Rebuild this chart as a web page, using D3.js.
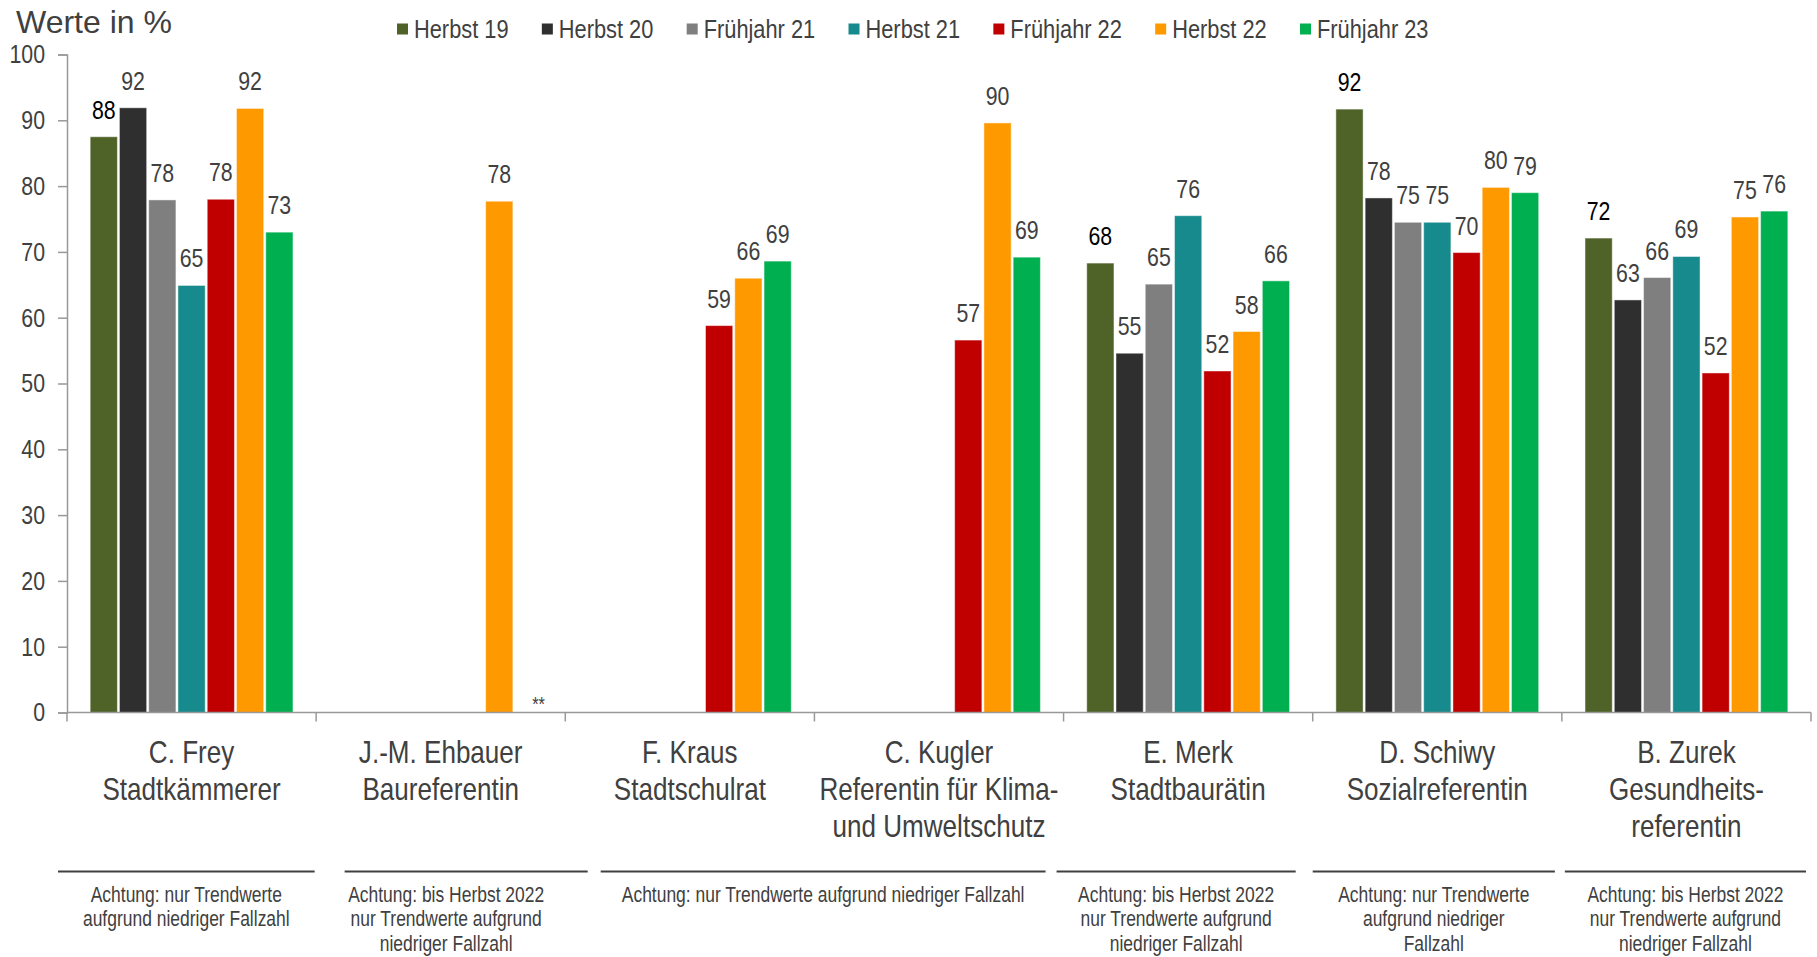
<!DOCTYPE html>
<head>
  <meta charset="utf-8">
  <script src="https://cdn.jsdelivr.net/npm/d3@7"></script>
</head>
<style>
  body { margin: 0; background: #fff; }
  text { font-family: "Liberation Sans", Arial, sans-serif; fill: #404040; }
</style>
<body>
<script>

// categories (person + role lines)
var persons = ["C. Frey", "J.-M. Ehbauer", "F. Kraus", "C. Kugler", "E. Merk", "D. Schiwy", "B. Zurek"];
var roles = [["Stadtkämmerer"], ["Baureferentin"], ["Stadtschulrat"], ["Referentin für Klima-", "und Umweltschutz"],
             ["Stadtbaurätin"], ["Sozialreferentin"], ["Gesundheits-", "referentin"]];

var series = ["Herbst 19", "Herbst 20", "Frühjahr 21", "Herbst 21", "Frühjahr 22", "Herbst 22", "Frühjahr 23"];
var colors = ["#4f6228", "#2f2f2f", "#7f7f7f", "#168a8c", "#c00000", "#ff9900", "#00b050"];

// values in %, null = no value
var herbst19    = [87.5, null, null, null, 68.3, 91.7, 72.1];
var herbst20    = [91.9, null, null, null, 54.6, 78.2, 62.7];
var fruehjahr21 = [77.9, null, null, null, 65.1, 74.5, 66.1];
var herbst21    = [64.9, null, null, null, 75.5, 74.5, 69.3];
var fruehjahr22 = [78.0, null, 58.8, 56.6, 51.9, 69.9, 51.6];
var herbst22    = [91.8, 77.7, 66.0, 89.6, 57.9, 79.8, 75.3];
var fruehjahr23 = [73.0, null, 68.6, 69.2, 65.6, 79.0, 76.2];
var fruehjahr23Marks = ["", "**", "", "", "", "", ""];

var values = [herbst19, herbst20, fruehjahr21, herbst21, fruehjahr22, herbst22, fruehjahr23];

var yTicks = [0, 10, 20, 30, 40, 50, 60, 70, 80, 90, 100];

// footnotes below the categories
var noteTexts = [
  ["Achtung: nur Trendwerte", "aufgrund niedriger Fallzahl"],
  ["Achtung: bis Herbst 2022", "nur Trendwerte aufgrund", "niedriger Fallzahl"],
  ["Achtung: nur Trendwerte aufgrund niedriger Fallzahl"],
  ["Achtung: bis Herbst 2022", "nur Trendwerte aufgrund", "niedriger Fallzahl"],
  ["Achtung: nur Trendwerte", "aufgrund niedriger", "Fallzahl"],
  ["Achtung: bis Herbst 2022", "nur Trendwerte aufgrund", "niedriger Fallzahl"]
];
var noteSpans = [[0, 0], [1, 1], [2, 3], [4, 4], [5, 5], [6, 6]];
// line offsets (left, right) relative to the band edges, and text shift
var noteLayout = [[-9, -1.5, 0], [28.5, 22.4, -20], [35.4, -18, 0], [-7, -17, 0], [0, -7, 0], [3, -5, 0]];

var width = 1817, height = 957;
var narrowK = 0.82; // no Arial Narrow installed -> squeeze Liberation Sans

var svg = d3.select("body").append("svg")
    .attr("width", width)
    .attr("height", height);

var x0 = d3.scaleBand()
    .domain(persons)
    .range([67, 1811]);

var bw = x0.bandwidth();
var x1 = d3.scaleBand()
    .domain(series)
    .range([bw * 0.093, bw * 0.907])
    .paddingInner(0.07);

var y = d3.scaleLinear()
    .domain([0, 100])
    .range([712.5, 54.5]);

// title
svg.append("text")
    .attr("x", 16)
    .attr("y", 33)
    .style("font-size", "32px")
    .text("Werte in %");

// legend
var legend = svg.append("g").attr("transform", "translate(397,29)");
var lx = 0;
series.forEach(function(s, i) {
  var g = legend.append("g").attr("transform", "translate(" + lx + ",0)");
  g.append("rect")
    .attr("x", 0).attr("y", -5.5)
    .attr("width", 11).attr("height", 11)
    .style("fill", colors[i]);
  var t = g.append("text")
    .attr("class", "n")
    .attr("x", 17)
    .attr("dy", "0.35em")
    .style("font-size", "26.6px")
    .text(s);
  lx += 17 + t.node().getComputedTextLength() * narrowK + 33.3;
});

// y axis
var yAxis = svg.append("g")
    .attr("transform", "translate(67,0)")
    .call(d3.axisLeft(y).tickValues(yTicks).tickSize(9).tickPadding(13));
yAxis.select(".domain").attr("stroke", "#999").attr("stroke-width", 1.5);
yAxis.selectAll(".tick line").attr("stroke", "#999").attr("stroke-width", 1.5);
yAxis.selectAll(".tick text")
    .attr("class", "n")
    .style("font-size", "26px")
    .style("font-family", null)
    .attr("fill", null);
yAxis.attr("font-family", null).attr("font-size", null);

// bars
var groups = svg.selectAll(".cat")
    .data(persons)
  .enter().append("g")
    .attr("class", "cat")
    .attr("transform", function(d) { return "translate(" + x0(d) + ",0)"; });

groups.each(function(p, ci) {
  var g = d3.select(this);
  var rows = series.map(function(s, si) { return {s: s, si: si, v: values[si][ci]}; })
      .filter(function(d) { return d.v != null; });

  g.selectAll("rect")
      .data(rows)
    .enter().append("rect")
      .attr("x", function(d) { return x1(d.s); })
      .attr("y", function(d) { return y(d.v); })
      .attr("width", x1.bandwidth())
      .attr("height", function(d) { return y(0) - y(d.v); })
      .style("fill", function(d) { return colors[d.si]; })
      .style("stroke", "#fff")
      .style("stroke-opacity", 0.45)
      .style("stroke-width", 1);

  g.selectAll(".lbl")
      .data(rows)
    .enter().append("text")
      .attr("class", "lbl n")
      .attr("x", function(d) { return x1(d.s) + x1.bandwidth() / 2; })
      .attr("y", function(d) { return y(d.v) - 18; })
      .attr("text-anchor", "middle")
      .style("font-size", "26px")
      .style("fill", function(d) { return d.si == 0 ? "#000" : "#404040"; })
      .text(function(d) { return Math.round(d.v); });

  if (fruehjahr23Marks[ci]) {
    g.append("text")
      .attr("class", "n")
      .attr("x", x1("Frühjahr 23") + x1.bandwidth() / 2 + 10)
      .attr("y", y(0) - 1)
      .attr("text-anchor", "middle")
      .style("font-size", "20px")
      .text(fruehjahr23Marks[ci]);
  }
});

// x axis
var xAxis = svg.append("g")
    .attr("transform", "translate(0," + y(0) + ")");
xAxis.append("line")
    .attr("x1", 67).attr("x2", 1811)
    .attr("stroke", "#999").attr("stroke-width", 1.5);
xAxis.selectAll(".sep")
    .data(persons.concat([null]))
  .enter().append("line")
    .attr("x1", function(d, i) { return 67 + i * bw; })
    .attr("x2", function(d, i) { return 67 + i * bw; })
    .attr("y1", 0).attr("y2", 9)
    .attr("stroke", "#999").attr("stroke-width", 1.5);

// category labels
groups.each(function(p, ci) {
  var lines = [p].concat(roles[ci]);
  d3.select(this).selectAll(".cl")
      .data(lines)
    .enter().append("text")
      .attr("class", "cl n")
      .attr("x", bw / 2)
      .attr("y", function(d, i) { return 763 + i * 37; })
      .attr("text-anchor", "middle")
      .style("font-size", "31.8px")
      .text(function(d) { return d; });
});

// footnotes
noteTexts.forEach(function(lines, ni) {
  var span = noteSpans[ni], lay = noteLayout[ni];
  var left = x0(persons[span[0]]) + lay[0];
  var right = x0(persons[span[1]]) + bw + lay[1];
  svg.append("line")
    .attr("x1", left).attr("x2", right)
    .attr("y1", 871.5).attr("y2", 871.5)
    .attr("stroke", "#404040").attr("stroke-width", 2);
  var cx = (left + right) / 2 + lay[2];
  lines.forEach(function(t, li) {
    svg.append("text")
      .attr("class", "n")
      .attr("x", cx)
      .attr("y", 902 + li * 24.5)
      .attr("text-anchor", "middle")
      .style("font-size", "21.3px")
      .text(t);
  });
});

// squeeze the narrow texts horizontally
svg.selectAll("text.n").each(function() {
  var x = +this.getAttribute("x") || 0;
  this.setAttribute("x", x / narrowK);
  this.setAttribute("transform", "scale(" + narrowK + ",1)");
});

</script>
</body>
